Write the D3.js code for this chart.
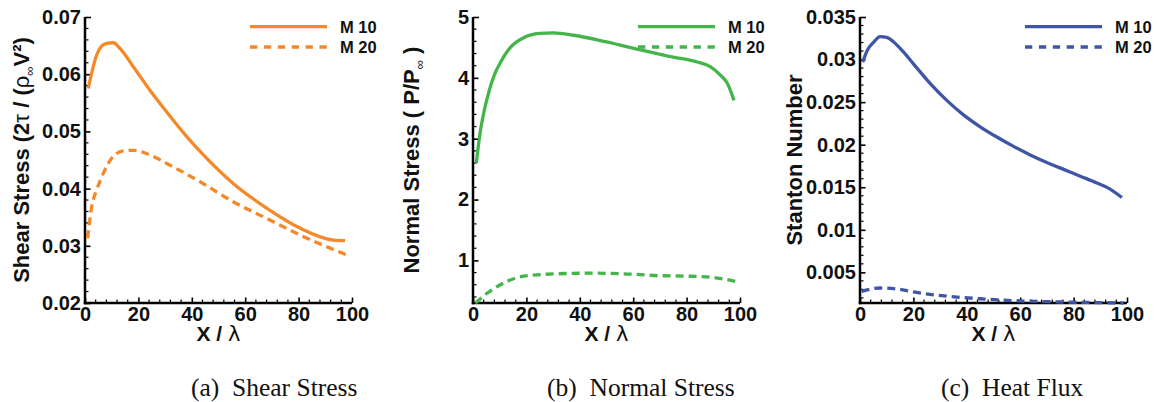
<!DOCTYPE html>
<html>
<head>
<meta charset="utf-8">
<script src="https://cdn.jsdelivr.net/npm/d3@7/dist/d3.min.js"></script>
<style>
  html, body { margin: 0; padding: 0; background: #fff; }
  svg { display: block; }
  text { font-family: "Liberation Sans", Arial, Helvetica, sans-serif; }
</style>
</head>
<body>
<svg id="chart" width="1157" height="402"></svg>
<script>
// ---------------- DATA ----------------
const xTicks = [0, 20, 40, 60, 80, 100];
const xTickLabels = ["0", "20", "40", "60", "80", "100"];
const seriesNames = ["M 10", "M 20"];

// (a) Shear stress
const shearYTicks = [0.02, 0.03, 0.04, 0.05, 0.06, 0.07];
const shearYTickLabels = ["0.02", "0.03", "0.04", "0.05", "0.06", "0.07"];
const shearX_M10 = [1.2, 4.4, 7.5, 10.6, 13.1, 18.1, 24.3, 30.6, 38.1, 43.1, 55.5, 68, 80.5, 93, 97.4];
const shearM10   = [0.0575, 0.0634, 0.0653, 0.0655, 0.0645, 0.0613, 0.0572, 0.0534, 0.0491, 0.0465, 0.0409, 0.0366, 0.0331, 0.0310, 0.0309];
const shearX_M20 = [1, 2.5, 4.4, 6.9, 10, 14.4, 18.1, 24.3, 30.6, 43.1, 55.5, 68, 80.5, 98];
const shearM20   = [0.0313, 0.0368, 0.0398, 0.0427, 0.0453, 0.0466, 0.0467, 0.0459, 0.0444, 0.0412, 0.0377, 0.0348, 0.0319, 0.0284];

// (b) Normal stress
const normalYTicks = [1, 2, 3, 4, 5];
const normalYTickLabels = ["1", "2", "3", "4", "5"];
const normalX_M10 = [1.25, 2.5, 4, 6, 8, 10.5, 14, 19, 25, 30, 37.75, 50, 62.75, 75, 84, 89, 92.75, 95.25, 97.75];
const normalM10   = [2.6, 3.05, 3.42, 3.78, 4.05, 4.27, 4.5, 4.66, 4.73, 4.74, 4.70, 4.59, 4.46, 4.34, 4.26, 4.18, 4.04, 3.91, 3.63];
const normalX_M20 = [0.9, 5.25, 10.25, 19, 31.5, 44, 56.5, 69, 81.5, 91.5, 100];
const normalM20   = [0.30, 0.46, 0.60, 0.74, 0.78, 0.79, 0.78, 0.75, 0.74, 0.71, 0.64];

// (c) Heat flux
const heatYTicks = [0.005, 0.01, 0.015, 0.02, 0.025, 0.03, 0.035];
const heatYTickLabels = ["0.005", "0.01", "0.015", "0.02", "0.025", "0.03", "0.035"];
const heatX_M10 = [1, 2.75, 5, 7.5, 10, 12.5, 16.25, 20, 26.25, 32.5, 38.75, 45, 51.25, 57.5, 63.75, 70, 76.25, 82.5, 88.75, 93, 98.1];
const heatM10   = [0.0297, 0.0311, 0.0320, 0.0327, 0.0326, 0.0321, 0.0309, 0.0295, 0.0272, 0.0252, 0.0235, 0.0221, 0.0209, 0.0198, 0.0188, 0.0179, 0.0171, 0.0163, 0.0155, 0.0149, 0.0138];
const heatX_M20 = [0.6, 7.5, 13.75, 20, 32.5, 45, 57.5, 70, 82.5, 98.75];
const heatM20   = [0.00277, 0.00316, 0.00305, 0.0027, 0.0022, 0.0019, 0.00168, 0.00156, 0.00148, 0.0014];

const captions = ["(a)\u2002Shear Stress", "(b)\u2002Normal Stress", "(c)\u2002Heat Flux"];

// ---------------- DRAW ----------------
const svg = d3.select("#chart");

function zip(xs, ys) { return xs.map((x, i) => [x, ys[i]]); }

const panels = [
  { left: 85, color: "#F5892A", yDomain: [0.02, 0.07], yTicks: shearYTicks, yLabels: shearYTickLabels, minorStep: 0.002,
    s1: zip(shearX_M10, shearM10), s2: zip(shearX_M20, shearM20), title: "shear", captionX: 191 },
  { left: 473, color: "#44B54B", yDomain: [0.3, 5], yTicks: normalYTicks, yLabels: normalYTickLabels, minorStep: 0.2,
    s1: zip(normalX_M10, normalM10), s2: zip(normalX_M20, normalM20), title: "normal", captionX: 547 },
  { left: 860, color: "#3F56A7", yDomain: [0.0014, 0.035], yTicks: heatYTicks, yLabels: heatYTickLabels, minorStep: 0.001,
    s1: zip(heatX_M10, heatM10), s2: zip(heatX_M20, heatM20), title: "heat", captionX: 941 }
];

const plotTop = 17, plotBottom = 303, plotW = 267;

panels.forEach((p, pi) => {
  const x = d3.scaleLinear().domain([0, 100]).range([p.left, p.left + plotW]);
  const y = d3.scaleLinear().domain(p.yDomain).range([plotBottom, plotTop]);
  const g = svg.append("g");

  // minor ticks
  const xMinor = d3.range(0, 100.001, 4).filter(v => v % 20 !== 0);
  g.append("g").selectAll("line").data(xMinor).join("line")
    .attr("x1", d => x(d)).attr("x2", d => x(d))
    .attr("y1", plotBottom).attr("y2", plotBottom - 3.5)
    .attr("stroke", "#000").attr("stroke-width", 1.2);
  const nMin = Math.ceil((p.yDomain[0] + 1e-9) / p.minorStep);
  const nMax = Math.floor((p.yDomain[1] + 1e-9) / p.minorStep);
  const yMinor = d3.range(nMin, nMax + 1).map(k => k * p.minorStep)
    .filter(v => !p.yTicks.some(t => Math.abs(t - v) < p.minorStep / 10));
  g.append("g").selectAll("line").data(yMinor).join("line")
    .attr("x1", p.left).attr("x2", p.left + 3.5)
    .attr("y1", d => y(d)).attr("y2", d => y(d))
    .attr("stroke", "#000").attr("stroke-width", 1.2);

  // axes
  const xAxis = d3.axisBottom(x).tickValues(xTicks).tickFormat((d, i) => xTickLabels[i])
    .tickSizeInner(-5.5).tickSizeOuter(0).tickPadding(4);
  const yAxis = d3.axisLeft(y).tickValues(p.yTicks).tickFormat((d, i) => p.yLabels[i])
    .tickSizeInner(-5.5).tickSizeOuter(0).tickPadding(4);

  const gx = g.append("g").attr("transform", `translate(0,${plotBottom})`).call(xAxis);
  const gy = g.append("g").attr("transform", `translate(${p.left},0)`).call(yAxis);
  [gx, gy].forEach(a => {
    a.select(".domain").attr("stroke", "#000").attr("stroke-width", 2.5);
    a.selectAll(".tick line").attr("stroke", "#000").attr("stroke-width", 1.6);
    a.selectAll(".tick text").attr("fill", "#111").attr("font-size", 20).attr("font-weight", "bold")
      .style("font-family", '"Liberation Sans", Arial, sans-serif');
  });
  gx.select(".domain").attr("d", `M${p.left - 1.25},0H${p.left + plotW}`);
  gy.select(".domain").attr("d", `M0,${plotTop}V${plotBottom + 1.25}`);
  gy.selectAll(".tick").filter(d => Math.abs(d - p.yDomain[1]) < 1e-9).select("line")
    .attr("x2", 6);

  // curves
  const line = d3.line().x(d => x(d[0])).y(d => y(d[1])).curve(d3.curveMonotoneX);
  g.append("path").datum(p.s1).attr("d", line)
    .attr("fill", "none").attr("stroke", p.color).attr("stroke-width", 3.3)
    .attr("stroke-linejoin", "round");
  g.append("path").datum(p.s2).attr("d", line)
    .attr("fill", "none").attr("stroke", p.color).attr("stroke-width", 3.3)
    .attr("stroke-dasharray", "8,5");

  // legend
  const legY = [26.7, 47];
  seriesNames.forEach((name, i) => {
    g.append("line")
      .attr("x1", p.left + 165).attr("x2", p.left + 242)
      .attr("y1", legY[i]).attr("y2", legY[i])
      .attr("stroke", p.color).attr("stroke-width", 3.3)
      .attr("stroke-dasharray", i === 1 ? "7.3,6.6" : null);
    g.append("text")
      .attr("x", p.left + 255).attr("y", legY[i]).attr("dy", "0.36em")
      .attr("font-size", 16.5).attr("font-weight", "bold").attr("fill", "#111")
      .text(name);
  });

  // x title
  const xt = g.append("text")
    .attr("x", (p.left + p.left + plotW) / 2).attr("y", 341)
    .attr("text-anchor", "middle").attr("font-size", 21).attr("font-weight", "bold").attr("fill", "#111");
  xt.append("tspan").text("X / ");
  xt.append("tspan").attr("font-weight", "normal").attr("font-family", "DejaVu Sans").text("λ");

  // y title
  const cy = (plotTop + plotBottom) / 2;
  const yTitleX = [22, 412, 795][pi];
  const yt = g.append("text")
    .attr("transform", `translate(${yTitleX + 7},${cy}) rotate(-90)`)
    .attr("text-anchor", "middle").attr("font-size", 22).attr("font-weight", "bold").attr("fill", "#111");
  if (p.title === "shear") {
    yt.append("tspan").text("Shear Stress (2");
    yt.append("tspan").attr("font-weight", "normal").text("τ");
    yt.append("tspan").text(" / (");
    yt.append("tspan").attr("font-weight", "normal").text("ρ");
    yt.append("tspan").attr("font-size", 13).attr("font-weight", "normal").attr("dy", 5).text("∞");
    yt.append("tspan").attr("dy", -5).text("V²)");
  } else if (p.title === "normal") {
    yt.append("tspan").text("Normal Stress ( P/P");
    yt.append("tspan").attr("font-size", 13).attr("font-weight", "normal").attr("dy", 5).text("∞");
    yt.append("tspan").attr("dy", -5).text(" )");
  } else {
    yt.text("Stanton Number");
  }

  // caption
  svg.append("text")
    .attr("x", p.captionX).attr("y", 396)
    .attr("font-size", 25.5).attr("fill", "#111")
    .style("font-family", '"Liberation Serif", "Times New Roman", serif')
    .text(captions[pi]);
});
</script>
</body>
</html>
